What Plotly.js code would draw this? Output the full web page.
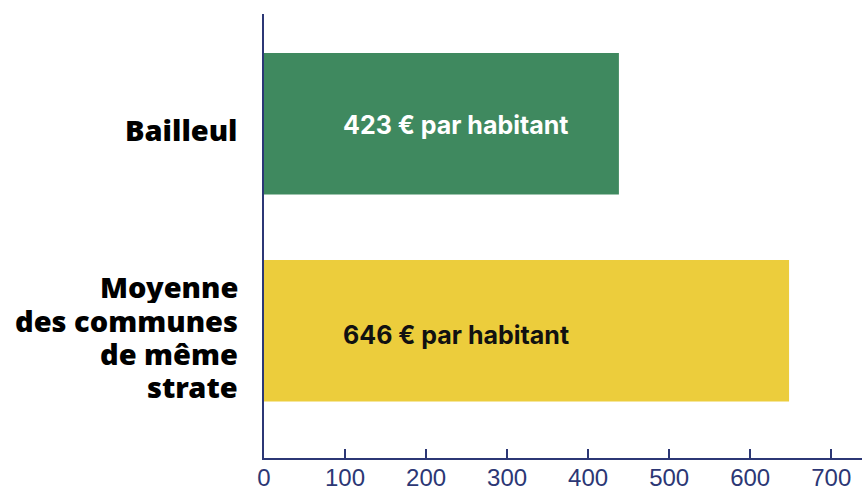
<!DOCTYPE html>
<html>
<head>
<meta charset="utf-8">
<script src="https://cdn.plot.ly/plotly-3.0.1.min.js"></script>
<style>
html,body{margin:0;padding:0;background:#fff;}
#chart{width:862px;height:491px;}
</style>
</head>
<body>
<div id="chart"></div>
<script>
// Data
const categories = ["Bailleul", "Moyenne\ndes communes\nde même\nstrate"];
const values = [438, 648];
const valueLabels = ["423 € par habitant", "646 € par habitant"];
const barColors = ["#3f895f", "#eccd3c"];
const labelColors = ["#ffffff", "#111111"];
const xTicks = [0, 100, 200, 300, 400, 500, 600, 700];

const navy = "#2c3775";
const catIds = categories.map((c, i) => "c" + i);

const trace = {
  type: "bar",
  orientation: "h",
  x: values,
  y: catIds,
  marker: {color: barColors, line: {width: 0}},
  hoverinfo: "none",
  cliponaxis: false
};

const annotations = [];
// category labels (one annotation per line for tight line spacing)
const lineH = 33.3;
categories.forEach((c, i) => {
  const lines = c.split("\n");
  const n = lines.length;
  lines.forEach((ln, j) => {
    annotations.push({
      xref: "paper", yref: "y", x: 0, y: catIds[i],
      xanchor: "right", yanchor: "middle",
      xshift: -25, yshift: ((n - 1) / 2 - j) * lineH - 6,
      height: 33, borderpad: 0,
      text: ln, showarrow: false,
      font: {family: "Noto Sans", size: 29, color: "#000000", weight: 900}
    });
  });
});
// value labels
valueLabels.forEach((t, i) => {
  annotations.push({
    xref: "paper", yref: "y", x: 0.128, y: catIds[i],
    xanchor: "left", yanchor: "middle",
    yshift: i === 0 ? -1 : -4,
    text: t, showarrow: false,
    font: {family: "Inter", size: 25, color: labelColors[i], weight: 700}
  });
});

const layout = {
  width: 862, height: 491,
  margin: {l: 264, r: 0, t: 14, b: 33, pad: 0},
  paper_bgcolor: "#ffffff", plot_bgcolor: "#ffffff",
  showlegend: false,
  bargap: 0.316,
  xaxis: {
    range: [0, 738],
    tickvals: xTicks,
    ticktext: xTicks.map(String),
    ticks: "inside", ticklen: 9, tickwidth: 2, tickcolor: navy,
    showline: true, linecolor: navy, linewidth: 2,
    showgrid: false, zeroline: false,
    ticklabelstandoff: -3,
    tickfont: {family: "Liberation Sans", size: 24, color: navy},
    fixedrange: true
  },
  yaxis: {
    type: "category",
    categoryarray: catIds,
    range: [1.615, -0.531],
    showticklabels: false, ticks: "",
    showline: true, linecolor: navy, linewidth: 2,
    showgrid: false, zeroline: false,
    fixedrange: true
  },
  annotations: annotations
};

Plotly.newPlot("chart", [trace], layout, {displayModeBar: false, staticPlot: true});
</script>
</body>
</html>
